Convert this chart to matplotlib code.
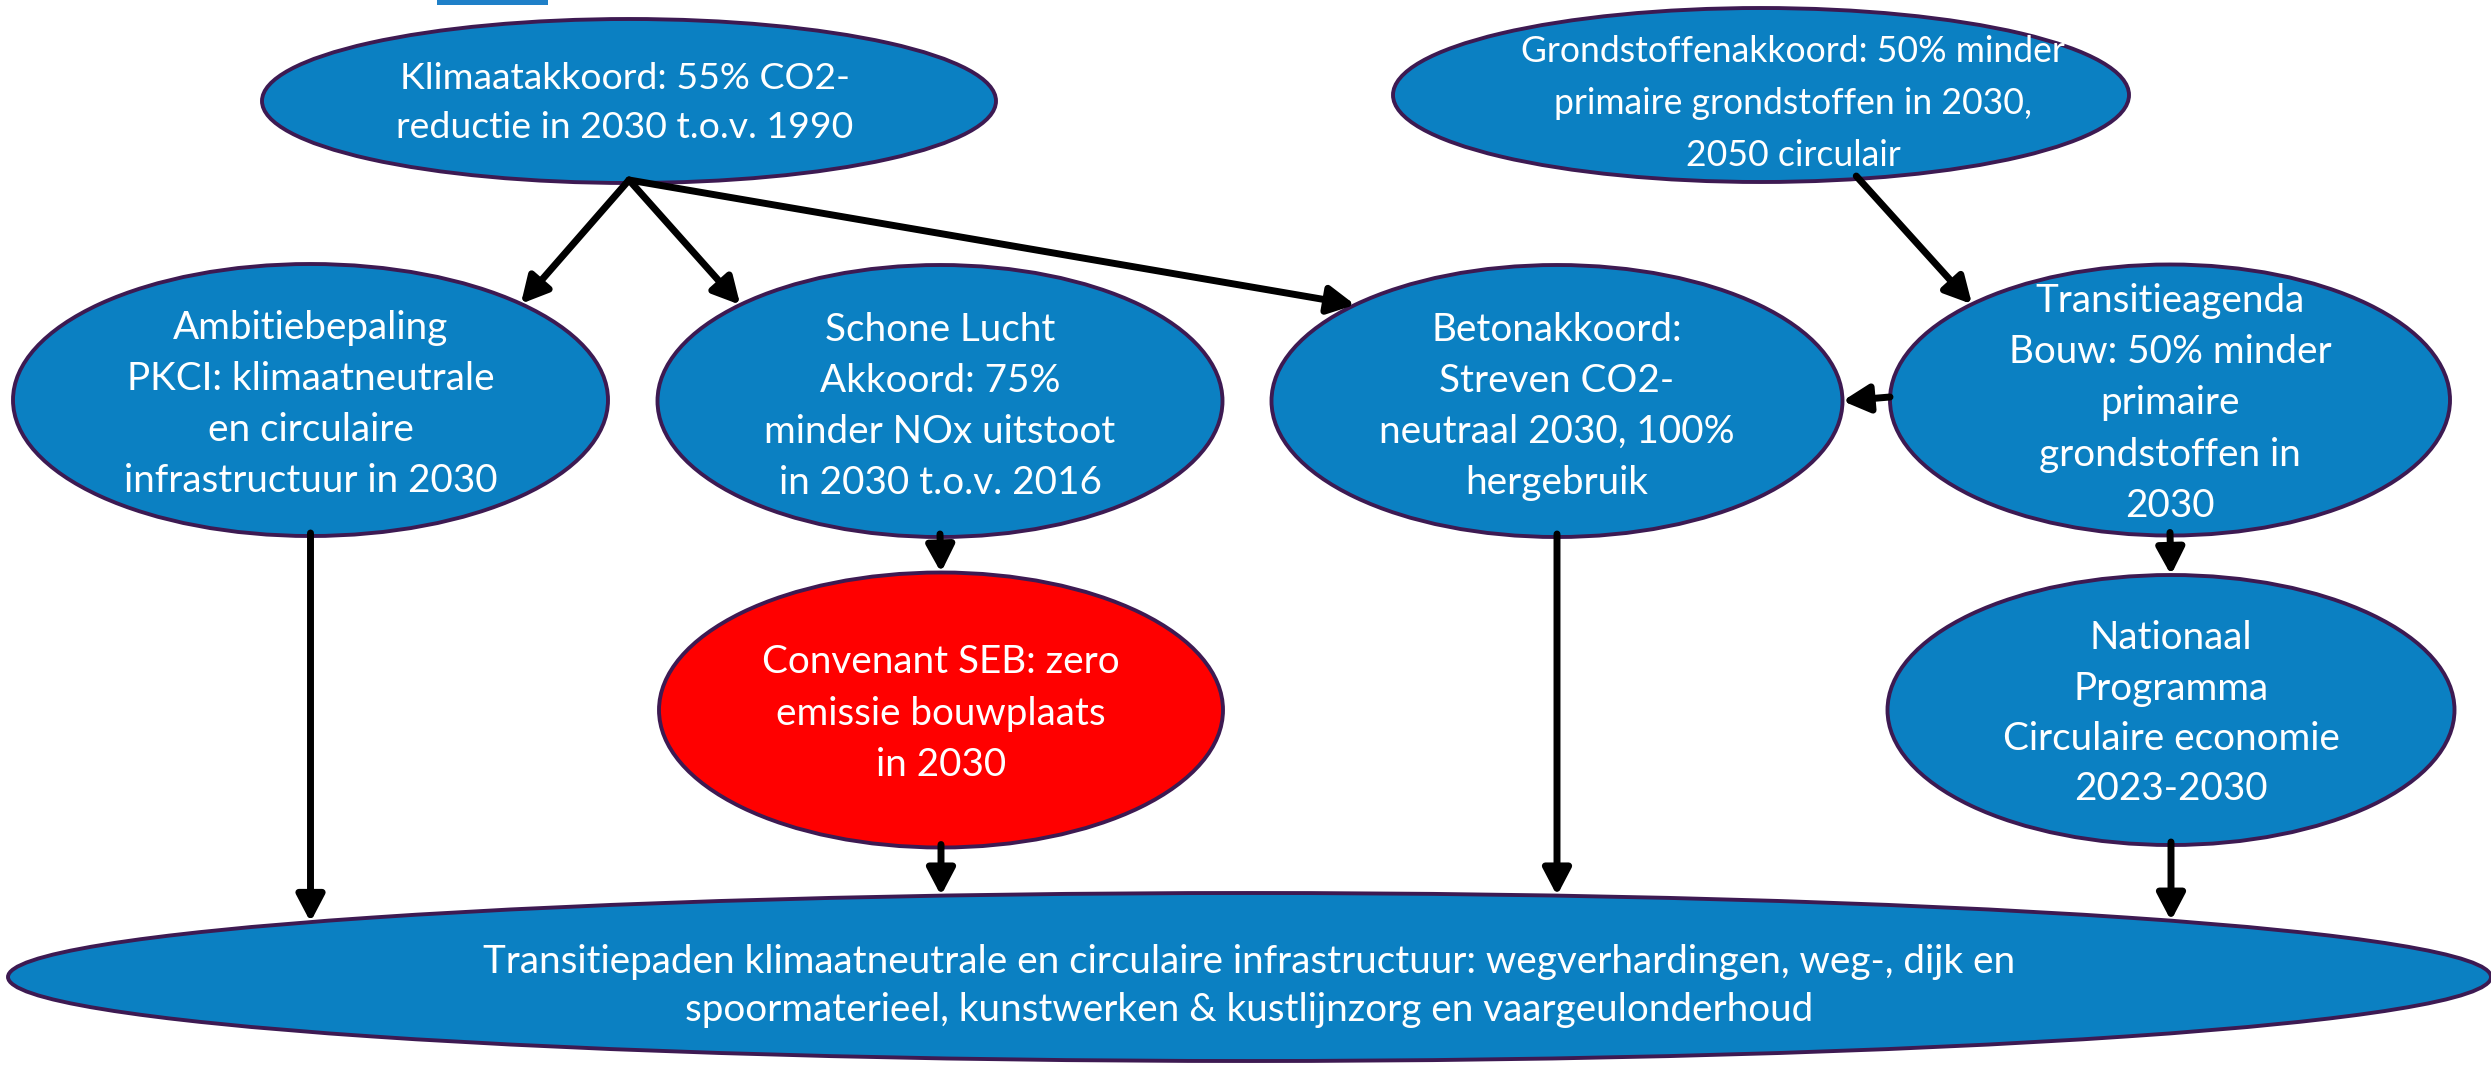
import numpy as np
import matplotlib
matplotlib.use('Agg')
import matplotlib.pyplot as plt
from matplotlib.patches import Ellipse, FancyArrowPatch, Rectangle, ArrowStyle

# knooppunten van het schema
node_text = [
    ["Klimaatakkoord: 55% CO2-", "reductie in 2030 t.o.v. 1990"],
    ["Grondstoffenakkoord: 50% minder", "primaire grondstoffen in 2030,", "2050 circulair"],
    ["Ambitiebepaling", "PKCI: klimaatneutrale", "en circulaire", "infrastructuur in 2030"],
    ["Schone Lucht", "Akkoord: 75%", "minder NOx uitstoot", "in 2030 t.o.v. 2016"],
    ["Betonakkoord:", "Streven CO2-", "neutraal 2030, 100%", "hergebruik"],
    ["Transitieagenda", "Bouw: 50% minder", "primaire", "grondstoffen in", "2030"],
    ["Convenant SEB: zero", "emissie bouwplaats", "in 2030"],
    ["Nationaal", "Programma", "Circulaire economie", "2023-2030"],
    ["Transitiepaden klimaatneutrale en circulaire infrastructuur: wegverhardingen, weg-, dijk en",
     "spoormaterieel, kunstwerken & kustlijnzorg en vaargeulonderhoud"],
]
node_red = [False, False, False, False, False, False, True, False, False]

# pijlen: (van, hoek bron, naar, hoek doel); None = recht naar beneden
edges = [
    (0, 90, 2, 315),
    (0, 90, 3, 225),
    (0, 90, 4, 225),
    (1, 75, 5, 225),
    (5, 180, 4, 0),
    (3, 90, 6, 270),
    (5, 90, 7, 270),
    (2, 90, 8, None),
    (6, 90, 8, None),
    (4, 90, 8, None),
    (7, 90, 8, None),
]

# layout (pixels)
cx = [629, 1761, 310.5, 940, 1557, 2170, 941, 2171, 1249.5]
cy = [101, 95, 400, 401, 401, 400, 710, 710, 977]
ew = [734, 736, 595, 565, 571, 560, 564, 567, 2483]
eh = [164, 174, 272, 272, 272, 271, 275, 270, 168]
text_dx = [-4, 32, 0, 0, 0, 0, 0, 0, 0]
text_scale = [0.97, 0.92, 1, 1, 1, 1, 1, 1, 1]
first_line = [74.7, 48, 325, 327, 327, 298, 659, 635.5, 959.6]
line_gap = [49.3, 52, 51, 51, 51, 51.3, 51.8, 50.2, 47.7]

BLUE = '#0b80c2'
EDGE = '#3d1a52'
FONT = 'Lato'

fig = plt.figure(figsize=(24.91, 10.65), dpi=100)
ax = fig.add_axes([0, 0, 1, 1])
ax.set_xlim(0, 2491)
ax.set_ylim(1065, 0)
ax.axis('off')

ax.add_patch(Rectangle((437, 0), 111, 5, color='#1f80c8', lw=0))

for i in range(len(node_text)):
    ax.add_patch(Ellipse((cx[i], cy[i]), ew[i], eh[i],
                         facecolor='#ff0000' if node_red[i] else BLUE,
                         edgecolor=EDGE, lw=2.8, zorder=1))

# één lettergrootte, afgestemd op "infrastructuur in 2030" (~373 px breed)
renderer = fig.canvas.get_renderer()
t = ax.text(0, 0, "infrastructuur in 2030", fontsize=30, family=FONT)
size = 30 * 373 / t.get_window_extent(renderer).width
t.remove()
cap = 0.7165 * size * 100 / 72

for i, lines in enumerate(node_text):
    for k, line in enumerate(lines):
        ax.text(cx[i] + text_dx[i], first_line[i] + k * line_gap[i] + cap / 2, line,
                color='white', fontsize=size * text_scale[i], family=FONT,
                ha='center', va='baseline', zorder=3)


def on_ellipse(i, ang):
    a = np.radians(ang)
    return cx[i] + ew[i] / 2 * np.cos(a), cy[i] + eh[i] / 2 * np.sin(a)


style = ArrowStyle('-|>', head_length=0.8, head_width=0.42)
for src, a_src, dst, a_dst in edges:
    x0, y0 = on_ellipse(src, a_src)
    if a_dst is None:
        u = (x0 - cx[dst]) / (ew[dst] / 2)
        x1, y1 = x0, cy[dst] - eh[dst] / 2 * np.sqrt(1 - u ** 2)
    else:
        x1, y1 = on_ellipse(dst, a_dst)
    arr = FancyArrowPatch((x0, y0 - 3), (x1, y1), arrowstyle=style, mutation_scale=20,
                          color='black', lw=5, shrinkA=0, shrinkB=0, zorder=4)
    arr.set_capstyle('round')
    ax.add_patch(arr)

fig.savefig('out.png', dpi=100)
